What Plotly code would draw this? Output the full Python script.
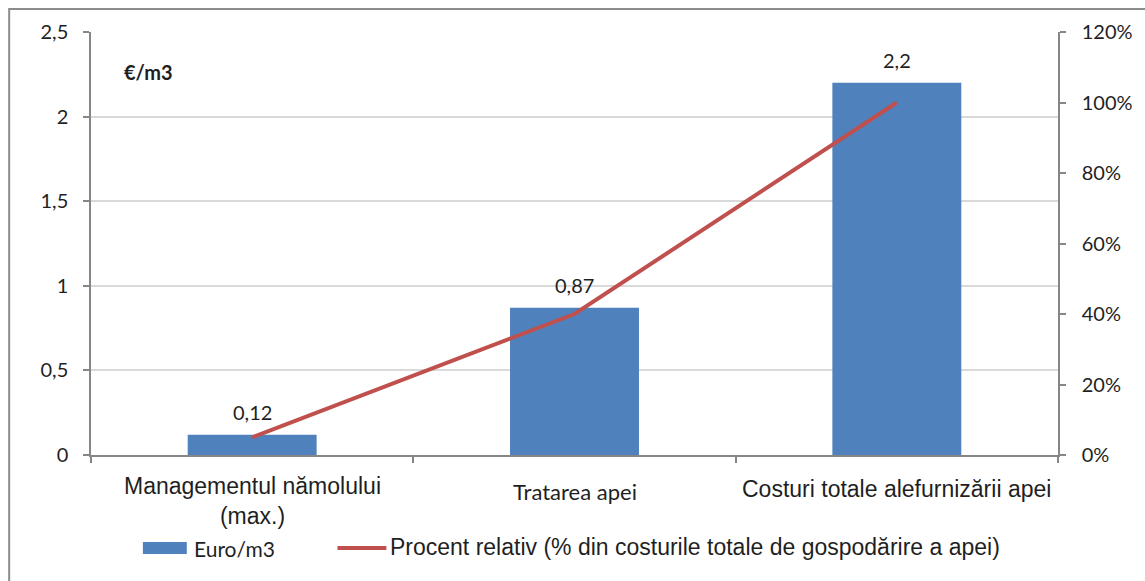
import plotly.graph_objects as go

# Cost categories and values
categories = ["Managementul nămolului (max.)", "Tratarea apei", "Costuri totale alefurnizării apei"]
category_labels = ["Managementul nămolului<br>(max.)", "Tratarea apei", "Costuri totale alefurnizării apei"]
euro_per_m3 = [0.12, 0.87, 2.2]
relative_share = [0.05, 0.40, 1.00]

left_ticks = [0, 0.5, 1, 1.5, 2, 2.5]
right_ticks = [0, 0.2, 0.4, 0.6, 0.8, 1.0, 1.2]

bar_name = "Euro/m3"
line_name = "Procent relativ (% din costurile totale de gospodărire a apei)"

BAR = "#4F81BD"
LINE = "#C0504D"
AXIS = "#868686"
GRID = "#D9D9D9"
TEXT = "#1F1F1F"

# Plot area in pixels: x 91..1060, y 32..455
PL, PR, PT, PB = 91, 1060, 32, 455


def px(x):
    return (x - PL) / (PR - PL)


def py(y):
    return (PB - y) / (PB - PT)


fig = go.Figure()
fig.add_trace(go.Bar(
    x=categories, y=euro_per_m3, name=bar_name,
    marker=dict(color=BAR, line=dict(width=0)),
    width=0.4, showlegend=False,
))
fig.add_trace(go.Scatter(
    x=categories, y=relative_share, yaxis="y2", mode="lines",
    name=line_name, line=dict(color=LINE, width=4), showlegend=False,
))

# Value labels above the bars
for cat, v in zip(categories, euro_per_m3):
    fig.add_annotation(
        x=cat, y=v, xref="x", yref="y", text=f"{v}".replace(".", ","),
        showarrow=False, yshift=23, yanchor="middle",
        font=dict(family="Lato", size=20, color=TEXT),
    )

# Category labels under the axis
label_fonts = [
    dict(family="Liberation Sans", size=23, color=TEXT),
    dict(family="Lato", size=22, color=TEXT),
    dict(family="Liberation Sans", size=23, color=TEXT),
]
label_shift = [-16, -21, -19]
for cat, lab, f, s in zip(categories, category_labels, label_fonts, label_shift):
    fig.add_annotation(
        x=cat, y=0, xref="x", yref="paper", text=lab, showarrow=False,
        yanchor="top", yshift=s, font=f,
    )

fig.add_annotation(
    x=px(149), xref="paper", y=py(72), yref="paper", text="<b>€/m3</b>",
    showarrow=False, xanchor="center", yanchor="middle",
    font=dict(family="Lato", size=20, color=TEXT),
)

# Legend drawn below the chart
fig.add_shape(type="rect", xref="paper", yref="paper",
              x0=px(143), x1=px(187), y0=py(554), y1=py(542),
              fillcolor=BAR, line=dict(width=0))
fig.add_annotation(x=px(192), y=py(548), xref="paper", yref="paper",
                   text=bar_name, showarrow=False, xanchor="left", yanchor="middle",
                   font=dict(family="Lato", size=21, color=TEXT))
fig.add_shape(type="line", xref="paper", yref="paper",
              x0=px(338), x1=px(387), y0=py(548), y1=py(548),
              line=dict(color=LINE, width=4))
fig.add_annotation(x=px(389), y=py(547), xref="paper", yref="paper",
                   text=line_name, showarrow=False, xanchor="left", yanchor="middle",
                   font=dict(family="Liberation Sans", size=23, color=TEXT))

# Chart frame
fig.add_shape(type="rect", xref="paper", yref="paper",
              x0=px(9), x1=px(1170), y0=py(600), y1=py(9),
              line=dict(color="#8C8C8C", width=2), layer="below")

fig.update_layout(
    width=1145, height=581,
    margin=dict(l=PL, r=1145 - PR, t=PT, b=581 - PB),
    paper_bgcolor="white", plot_bgcolor="white",
    separators=",.",
    showlegend=False,
    font=dict(family="Lato", size=20, color=TEXT),
    xaxis=dict(
        showticklabels=False, tickson="boundaries", ticks="outside", ticklen=6,
        tickcolor=AXIS, tickwidth=1.5, showline=True, linecolor=AXIS, linewidth=1.5,
        showgrid=False, zeroline=False,
    ),
    yaxis=dict(
        range=[0, 2.5], tickvals=left_ticks, ticks="outside", ticklen=6,
        tickcolor=AXIS, tickwidth=1.5, showline=True, linecolor=AXIS, linewidth=1.5,
        gridcolor=GRID, gridwidth=1.5, zeroline=False,
        ticklabelstandoff=11, tickfont=dict(family="Lato", size=20, color=TEXT),
    ),
    yaxis2=dict(
        range=[0, 1.2], tickvals=right_ticks, tickformat=".0%", overlaying="y",
        side="right", ticks="outside", ticklen=6, tickcolor=AXIS, tickwidth=1.5,
        showline=True, linecolor=AXIS, linewidth=1.5, showgrid=False,
        zeroline=False, ticklabelstandoff=12,
        tickfont=dict(family="Lato", size=20, color=TEXT),
    ),
)

fig.write_html("out.html")
